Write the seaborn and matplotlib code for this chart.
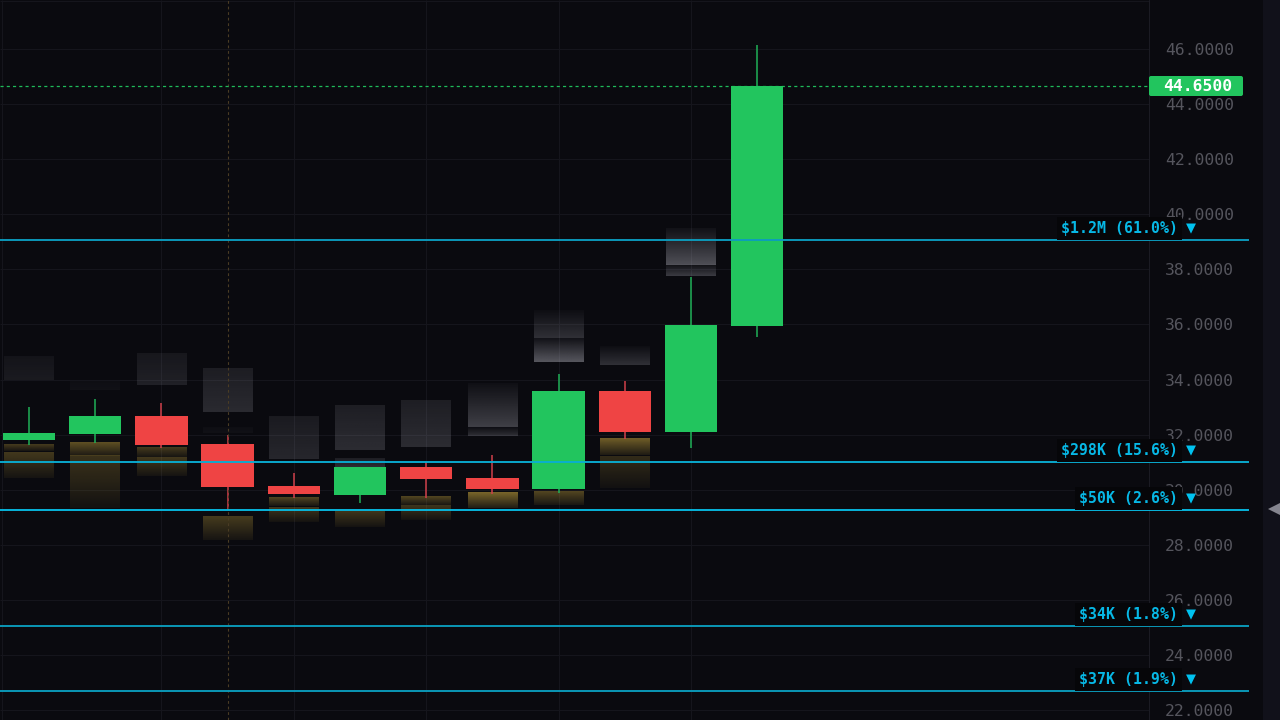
import numpy as np
import pandas as pd
import matplotlib
matplotlib.use("Agg")
import matplotlib.pyplot as plt
import seaborn as sns
from matplotlib.colors import to_rgb
from matplotlib.patches import FancyBboxPatch
from matplotlib.transforms import IdentityTransform

# candles
candle_idx = [0, 1, 2, 3, 4, 5, 6, 7, 8, 9, 10, 11]
candle_open = [31.80, 32.03, 32.68, 31.67, 30.13, 29.81, 30.82, 30.42, 30.01, 33.57, 32.10, 35.94]
candle_close = [32.05, 32.68, 31.61, 30.11, 29.84, 30.82, 30.40, 30.01, 33.57, 32.10, 35.97, 44.65]
candle_high = [33.01, 33.30, 33.15, 31.98, 30.59, 30.82, 30.99, 31.25, 34.20, 33.93, 37.73, 46.15]
candle_low = [31.61, 31.68, 31.52, 29.26, 29.71, 29.51, 29.71, 29.84, 29.87, 31.84, 31.51, 35.55]

# faint grey blocks above price
grey_idx = [0, 1, 2, 3, 3, 4, 5, 5, 6, 7, 7, 8, 8, 9, 10, 10]
grey_top = [34.85, 33.92, 34.93, 34.41, 32.24, 32.67, 33.04, 31.14, 33.25, 33.84, 32.26, 36.52, 35.51, 35.22, 39.49, 38.15]
grey_bottom = [33.98, 33.62, 33.80, 32.83, 32.05, 31.11, 31.44, 30.82, 31.55, 32.26, 31.95, 35.51, 34.65, 34.54, 38.15, 37.75]
grey_strength = [0.09, 0.04, 0.12, 0.17, 0.04, 0.15, 0.18, 0.18, 0.18, 0.28, 0.20, 0.20, 0.40, 0.20, 0.36, 0.26]

# gold blocks below price
gold_idx = [0, 0, 1, 1, 2, 2, 3, 4, 4, 5, 6, 6, 7, 8, 9, 9]
gold_top = [31.65, 31.34, 31.72, 31.22, 31.55, 31.17, 29.02, 29.73, 29.36, 29.20, 29.74, 29.41, 29.89, 29.93, 31.86, 31.22]
gold_bottom = [31.41, 30.41, 31.23, 29.32, 31.20, 30.50, 28.17, 29.42, 28.84, 28.65, 29.44, 28.90, 29.32, 29.44, 31.26, 30.06]
gold_strength = [0.30, 0.28, 0.42, 0.24, 0.30, 0.28, 0.30, 0.36, 0.26, 0.26, 0.36, 0.26, 0.55, 0.36, 0.50, 0.20]

# liquidity levels
level_price = [39.06, 31.00, 29.26, 25.05, 22.69]
level_label_price = [39.49, 31.42, 29.68, 25.48, 23.10]
level_text = ["$1.2M (61.0%)", "$298K (15.6%)", "$50K (2.6%)", "$34K (1.8%)", "$37K (1.9%)"]
level_color = ["#0c9dbf", "#09aed3", "#07bbe3", "#0b9dbc", "#0b9dbc"]

y_ticks = [22, 24, 26, 28, 30, 32, 34, 36, 38, 40, 42, 44, 46]
last_price = 44.65
grid_idx = [2, 4, 6, 8, 10]

BG = "#0a0a0f"
GREEN = "#22c55e"
RED = "#ef4444"

X0, STEP = 29.0, 66.2


def px_x(px):
    return (px - X0) / STEP


def draw_block(ax, i, top, bottom, strength, color, bright_bottom, floor):
    # gradient patch, strongest on the side facing the price
    fade = np.linspace(floor, 1.0, 32)
    if not bright_bottom:
        fade = fade[::-1]
    rgba = np.zeros((32, 1, 4))
    rgba[:, 0, :3] = to_rgb(color)
    rgba[:, 0, 3] = fade * strength
    ax.imshow(rgba, extent=(i - 0.375, i + 0.375, bottom, top), aspect="auto",
              origin="upper", interpolation="bilinear", zorder=1.5)


sns.set_theme(style="dark", rc={"axes.facecolor": BG, "figure.facecolor": BG})
plt.rcParams["font.family"] = ["DejaVu Sans Mono"]

fig = plt.figure(figsize=(12.8, 7.2), dpi=100)
ax = fig.add_axes([0, 0, 1, 1])

df = pd.DataFrame({"i": candle_idx, "open": candle_open, "close": candle_close})
df["bottom"] = df[["open", "close"]].min(axis=1)
df["height"] = (df["close"] - df["open"]).abs()
up = df[df["close"] >= df["open"]]
down = df[df["close"] < df["open"]]

# blocks, the weak ones on the left are almost flat
for i, t, b, s in zip(grey_idx, grey_top, grey_bottom, grey_strength):
    draw_block(ax, i, t, b, s, "#c8c8d4", True, 0.6 if i < 7 else 0.12)
for i, t, b, s in zip(gold_idx, gold_top, gold_bottom, gold_strength):
    draw_block(ax, i, t, b, s, "#d4b040", False, 0.22)

# wicks
for i, o, c, h, l in zip(candle_idx, candle_open, candle_close, candle_high, candle_low):
    ax.vlines(i, l, h, color="#1fb058" if c >= o else "#d0404a", lw=1.1, zorder=2)

# bodies
sns.barplot(data=up, x="i", y="height", bottom=up["bottom"].values, native_scale=True,
            width=0.79, color=GREEN, saturation=1, errorbar=None, linewidth=0, zorder=3, ax=ax)
sns.barplot(data=down, x="i", y="height", bottom=down["bottom"].values, native_scale=True,
            width=0.79, color=RED, saturation=1, errorbar=None, linewidth=0, zorder=3, ax=ax)

ax.set_xlim(px_x(0), px_x(1280))
ax.set_ylim(21.64, 47.78)
ax.set_xlabel("")
ax.set_ylabel("")
ax.set_xticks([])
for spine in ax.spines.values():
    spine.set_visible(False)

# grid, stops at the price scale
ax.hlines(y_ticks + [47.76], px_x(0), px_x(1149), color="#15151c", lw=0.75, zorder=1)
ax.vlines([px_x(1.5)] + grid_idx, 21.64, 47.78, color="#15151c", lw=0.75, zorder=1)
ax.axvline(px_x(1149), color="#1b1b23", lw=0.75, zorder=1)

# crosshair and last price line
ax.axvline(3, color="#4a3c24", lw=0.8, ls=(0, (2.5, 2.5)), zorder=2.5)
ax.hlines(last_price, px_x(0), px_x(1149), color="#1fbb5a", lw=0.9, ls=(0, (2.5, 2.5)), zorder=2.5)

# price scale labels
ax.yaxis.tick_right()
ax.set_yticks(y_ticks)
ax.set_yticklabels([f"{v:.4f}" for v in y_ticks])
ax.tick_params(axis="y", length=0, pad=-82.8, labelsize=11.8, labelcolor="#55555d")
ax.set_axisbelow(True)

# levels
for p, lp, t, c in zip(level_price, level_label_price, level_text, level_color):
    ax.hlines(p, px_x(0), px_x(1248.5), color=c, lw=1.35, zorder=4)
    ax.text(px_x(1178), lp, t, ha="right", va="center", fontsize=10.7,
            fontweight="bold", color="#06b8e6", zorder=5,
            bbox=dict(facecolor="#060609", edgecolor="none", pad=3))
    ax.text(px_x(1191), lp, "\u25bc", ha="center", va="center", fontsize=12,
            color="#00c2f0", zorder=6)

# last price tag
tag = FancyBboxPatch((1149, 720 - 96), 94, 20, boxstyle="round,pad=0,rounding_size=2",
                     facecolor=GREEN, edgecolor="none", transform=IdentityTransform(), zorder=6)
ax.add_patch(tag)
ax.text(px_x(1163), last_price, f"{last_price:.4f}", ha="left", va="center", fontsize=11.8,
        fontweight="bold", color="white", zorder=7)

# strip at far right with handle
ax.axvspan(px_x(1263), px_x(1280), color="#11111a", lw=0, zorder=1)
ax.plot([px_x(1275)], [29.3], marker="<", ms=10, color="#85858f", mew=0, zorder=6)

fig.savefig("out.png", dpi=100, facecolor=BG)
